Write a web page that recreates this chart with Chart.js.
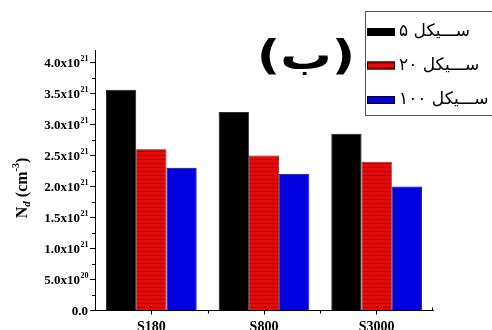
<!DOCTYPE html>
<html>
<head>
<meta charset="utf-8">
<script src="https://cdn.jsdelivr.net/npm/chart.js@4/dist/chart.umd.min.js"></script>
<style>
  html, body { margin: 0; padding: 0; background: #fff; }
  #wrap { width: 492px; height: 330px; }
</style>
</head>
<body>
<div id="wrap"><canvas id="c" width="492" height="330"></canvas></div>
<script>
// Donor density per sample and cycle count
const categories = ['S180', 'S800', 'S3000'];
const seriesLabels = ['ســـیکل ۵', 'ســـیکل ۲۰', 'ســـیکل ۱۰۰'];
const cycle5 = [3.56e21, 3.2e21, 2.85e21];
const cycle20 = [2.6e21, 2.5e21, 2.4e21];
const cycle100 = [2.3e21, 2.2e21, 2.0e21];
const yTickValues = [0, 0.5e21, 1.0e21, 1.5e21, 2.0e21, 2.5e21, 3.0e21, 3.5e21, 4.0e21];
const yTickMantissa = ['0.0', '5.0x10', '1.0x10', '1.5x10', '2.0x10', '2.5x10', '3.0x10', '3.5x10', '4.0x10'];
const yTickExponent = ['', '20', '21', '21', '21', '21', '21', '21', '21'];
const panelLabel = '(ب)';

const SERIF = "'Liberation Serif', 'Times New Roman', serif";
const ARABIC = "'DejaVu Sans', sans-serif";

// Striped red fill
function stripedRed() {
  const p = document.createElement('canvas');
  p.width = 4; p.height = 4;
  const g = p.getContext('2d');
  g.fillStyle = '#e40a0a';
  g.fillRect(0, 0, 4, 4);
  g.fillStyle = '#b80000';
  g.fillRect(0, 3, 4, 1);
  return g.createPattern(p, 'repeat');
}
const ctx0 = document.getElementById('c').getContext('2d');
const redFill = stripedRed();

const legendColors = ['#000000', '#e40a0a', '#0000e0'];

// Minor ticks, tick labels with exponents, y title, panel label and boxed legend
const decorations = {
  id: 'decorations',
  afterDraw(chart) {
    const ctx = chart.ctx;
    const y = chart.scales.y;
    const x = chart.scales.x;
    const area = chart.chartArea;
    ctx.save();
    ctx.strokeStyle = '#000';
    ctx.lineWidth = 1;
    // minor y ticks
    for (let v = 0.25e21; v < 4.2e21; v += 0.5e21) {
      const py = Math.round(y.getPixelForValue(v)) + 0.5;
      ctx.beginPath();
      ctx.moveTo(area.left - 3, py);
      ctx.lineTo(area.left, py);
      ctx.stroke();
    }
    // minor x ticks between categories
    for (let i = 0; i < categories.length - 1; i++) {
      const px = Math.round((x.getPixelForValue(i) + x.getPixelForValue(i + 1)) / 2) + 0.5;
      ctx.beginPath();
      ctx.moveTo(px, area.bottom);
      ctx.lineTo(px, area.bottom + 3);
      ctx.stroke();
    }
    // end tick at right of x axis
    ctx.beginPath();
    ctx.moveTo(area.right - 0.5, area.bottom);
    ctx.lineTo(area.right - 0.5, area.bottom - 3);
    ctx.stroke();

    // y tick labels: mantissa with raised exponent
    ctx.fillStyle = '#000';
    ctx.textBaseline = 'alphabetic';
    ctx.textAlign = 'left';
    const right = area.left - 7;
    yTickValues.forEach((v, i) => {
      const py = y.getPixelForValue(v);
      ctx.font = 'bold 8px ' + SERIF;
      const ew = yTickExponent[i] ? ctx.measureText(yTickExponent[i]).width : 0;
      ctx.font = 'bold 13px ' + SERIF;
      const mw = ctx.measureText(yTickMantissa[i]).width;
      const x0 = right - ew - mw;
      ctx.fillText(yTickMantissa[i], x0, py + 4.5);
      if (yTickExponent[i]) {
        ctx.font = 'bold 8px ' + SERIF;
        ctx.fillText(yTickExponent[i], x0 + mw + 0.5, py - 1.5);
      }
    });

    // y axis title: N_d (cm^-3)
    ctx.save();
    ctx.translate(22, 188);
    ctx.rotate(-Math.PI / 2);
    ctx.fillStyle = '#000';
    ctx.textBaseline = 'alphabetic';
    ctx.textAlign = 'left';
    const parts = [
      { t: 'N', f: 'bold 16px ' + SERIF, dy: 0 },
      { t: 'd', f: 'bold italic 11px ' + SERIF, dy: 3 },
      { t: ' (cm', f: 'bold 16px ' + SERIF, dy: 0 },
      { t: '-3', f: 'bold 10px ' + SERIF, dy: -8 },
      { t: ')', f: 'bold 16px ' + SERIF, dy: 0 }
    ];
    let total = 0;
    parts.forEach(p => { ctx.font = p.f; total += ctx.measureText(p.t).width; });
    let cx = -total / 2;
    parts.forEach(p => {
      ctx.font = p.f;
      ctx.fillText(p.t, cx, 5 + p.dy);
      cx += ctx.measureText(p.t).width;
    });
    ctx.restore();

    // panel label, slightly widened
    ctx.save();
    ctx.translate(306, 58);
    ctx.scale(1.25, 1);
    ctx.fillStyle = '#000';
    ctx.font = 'bold 41px ' + ARABIC;
    ctx.textAlign = 'center';
    ctx.textBaseline = 'middle';
    ctx.fillText(panelLabel, 0, 0);
    ctx.restore();

    // legend box
    ctx.strokeStyle = '#555';
    ctx.lineWidth = 1;
    ctx.strokeRect(365.5, 11.5, 140, 104);
    const rows = [32, 65.5, 100];
    chart.data.datasets.forEach((ds, i) => {
      const ry = rows[i];
      ctx.fillStyle = i === 1 ? redFill : legendColors[i];
      ctx.fillRect(367, ry - 4, 28, 8);
      ctx.strokeStyle = '#000';
      ctx.strokeRect(367.5, ry - 3.5, 27, 7);
      ctx.fillStyle = '#000';
      ctx.font = '17px ' + ARABIC;
      ctx.direction = 'rtl';
      ctx.textAlign = 'left';
      ctx.textBaseline = 'middle';
      ctx.fillText(ds.label, 399, ry);
    });
    ctx.restore();
  }
};

new Chart(ctx0, {
  type: 'bar',
  data: {
    labels: categories,
    datasets: [
      { label: seriesLabels[0], data: cycle5, backgroundColor: '#000000', borderColor: '#000', borderWidth: 0.8 },
      { label: seriesLabels[1], data: cycle20, backgroundColor: redFill, borderColor: '#7a0000', borderWidth: 0.8 },
      { label: seriesLabels[2], data: cycle100, backgroundColor: '#0000e0', borderColor: '#00006a', borderWidth: 0.8 }
    ]
  },
  options: {
    responsive: false,
    animation: false,
    devicePixelRatio: 1,
    layout: { padding: { top: 50, right: 59, left: 0, bottom: 0 } },
    plugins: { legend: { display: false }, tooltip: { enabled: false }, title: { display: false } },
    datasets: { bar: { categoryPercentage: 0.805, barPercentage: 1.0 } },
    scales: {
      x: {
        offset: true,
        grid: { display: true, drawOnChartArea: false, drawTicks: true, tickLength: 4, tickColor: '#000', offset: false },
        border: { display: true, color: '#000', width: 1 },
        ticks: {
          color: '#000', font: { family: SERIF, weight: 'bold', size: 14 },
          padding: 4, maxRotation: 0, autoSkip: false
        },
        afterFit(s) { s.height = 19.5; }
      },
      y: {
        min: 0,
        max: 4.2e21,
        grid: { display: true, drawOnChartArea: false, drawTicks: true, tickLength: 5, tickColor: '#000' },
        border: { display: true, color: '#000', width: 1 },
        afterBuildTicks(s) { s.ticks = yTickValues.map(v => ({ value: v })); },
        ticks: { display: false },
        afterFit(s) { s.width = 95; }
      }
    }
  },
  plugins: [decorations]
});
</script>
</body>
</html>
